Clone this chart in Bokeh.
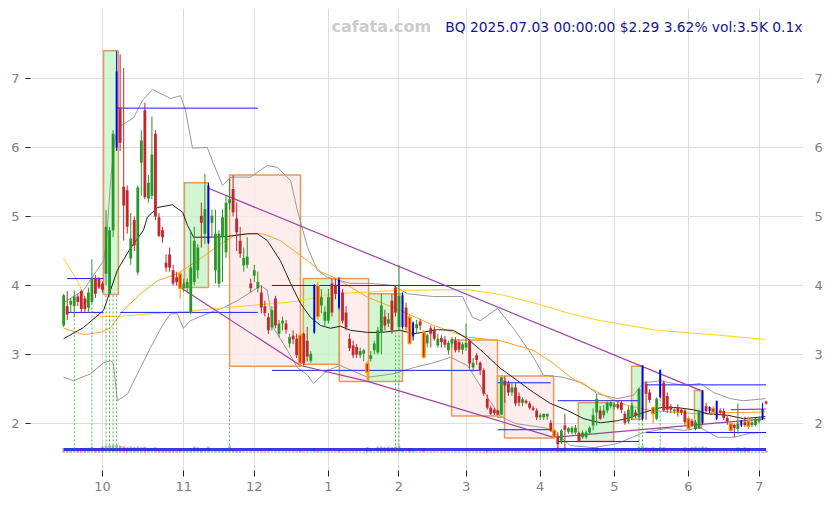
from bokeh.plotting import figure
from bokeh.models import Range1d, FixedTicker, LinearAxis, Label, ColumnDataSource
from bokeh.embed import file_html
from bokeh.resources import INLINE

# ---------------- data (x = trading-day index, 0 = 2024-10-01) ----------------
first_idx = -11
opens = [3.42,3.70,3.72,3.70,3.84,3.92,3.81,3.68,3.76,4.10,4.10,
         4.03,4.17,3.88,4.80,6.00,6.58,5.43,5.38,4.39,4.95,
         4.19,5.78,6.54,5.26,5.30,6.20,4.99,4.80,4.33,4.45,
         4.22,4.12,4.17,3.96,3.97,3.60,4.05,4.22,5.01,4.75,
         4.62,4.91,4.22,4.03,4.70,4.48,5.19,5.40,4.97,4.65,
         4.29,4.30,4.03,4.14,3.96,3.90,3.70,3.54,3.39,3.81,
         3.30,3.45,3.45,3.16,3.27,3.23,3.28,3.30,3.20,2.91,
         3.32,4.00,3.71,3.49,3.49,4.03,4.01,3.68,3.90,3.61,
         3.23,3.13,3.11,2.99,3.01,2.87,2.94,3.06,3.03,3.32,
         3.55,3.45,3.78,3.97,3.40,3.40,3.68,3.54,3.26,3.38,
         3.48,3.32,3.16,3.38,3.36,3.13,3.24,3.22,3.06,3.16,
         3.20,3.18,3.07,3.10,3.20,2.81,2.99,2.88,2.77,2.36,
         2.23,2.20,2.19,2.13,2.62,2.58,2.45,2.52,2.40,2.30,
         2.33,2.29,2.23,2.19,2.09,2.09,2.10,2.01,1.90,1.82,
         1.75,1.97,1.88,1.87,1.87,1.86,1.80,1.80,1.87,1.97,
         2.16,2.19,2.12,2.19,2.25,2.24,2.28,2.30,2.14,2.03,
         2.09,2.16,2.09,2.07,2.58,2.45,2.23,2.07,2.38,2.59,
         2.40,2.25,2.18,2.24,2.20,2.19,2.07,2.04,1.92,1.94,
         2.01,2.25,2.18,2.22,2.07,2.19,2.18,2.08,2.00,1.98,
         1.92,1.97,2.02,2.03,1.98,1.98,2.03,2.07,2.32]
highs = [3.88,3.92,3.82,3.93,3.88,3.94,3.85,3.97,4.38,4.15,4.12,
         4.06,5.09,4.85,6.25,7.40,7.35,7.15,5.45,5.05,5.00,
         5.45,6.25,6.65,5.60,6.45,6.25,5.05,4.85,4.45,4.55,
         4.30,4.20,4.20,4.10,4.10,4.80,4.85,4.60,5.20,5.62,
         5.49,5.10,5.10,4.80,5.10,5.30,5.55,5.60,5.20,4.85,
         4.55,4.70,4.10,4.30,4.20,4.00,3.78,3.60,3.70,3.85,
         3.50,3.55,3.50,3.30,3.35,3.30,3.32,3.32,3.40,3.05,
         4.02,4.05,3.95,3.70,3.95,4.10,4.10,4.12,3.95,3.70,
         3.30,3.20,3.15,3.10,3.08,2.90,3.05,3.20,3.40,3.88,
         3.65,3.60,3.88,4.00,4.30,3.90,3.75,3.58,3.48,3.50,
         3.52,3.35,3.30,3.42,3.40,3.30,3.28,3.27,3.20,3.25,
         3.25,3.22,3.18,3.45,3.22,2.95,3.02,2.90,2.80,2.42,
         2.26,2.22,2.20,2.68,2.68,2.62,2.58,2.58,2.45,2.38,
         2.35,2.32,2.26,2.22,2.15,2.14,2.14,2.05,1.92,1.88,
         1.92,2.14,1.95,1.96,1.98,1.88,1.90,1.90,1.96,2.22,
         2.43,2.25,2.27,2.32,2.33,2.30,2.33,2.33,2.18,2.25,
         2.30,2.20,2.52,2.84,2.62,2.50,2.25,2.38,2.78,2.62,
         2.45,2.28,2.22,2.28,2.22,2.22,2.10,2.07,2.05,2.20,
         2.48,2.30,2.25,2.25,2.33,2.22,2.22,2.11,2.02,2.00,
         2.29,2.05,2.10,2.10,2.05,2.08,2.10,2.30,2.33]
lows = [3.40,3.50,3.60,3.55,3.70,3.60,3.62,3.60,3.73,3.82,3.95,
        3.90,4.00,3.87,4.70,5.95,5.95,4.65,4.75,4.30,4.50,
        4.15,5.30,5.25,5.20,5.25,4.95,4.70,4.62,4.20,4.20,
        4.00,4.00,3.81,3.90,3.90,3.58,4.00,4.10,4.55,4.60,
        4.60,4.70,4.03,3.97,4.05,4.40,5.10,5.00,4.50,4.40,
        4.20,4.25,3.90,4.05,3.90,3.60,3.55,3.30,3.35,3.38,
        3.25,3.35,3.30,3.10,3.15,2.95,2.83,2.84,2.90,2.88,
        3.30,3.50,3.60,3.40,3.45,3.55,3.80,3.65,3.45,3.35,
        3.05,2.95,2.95,2.95,2.90,2.62,2.90,3.00,3.00,3.00,
        3.35,3.40,3.30,3.55,3.35,3.38,3.35,3.14,3.20,3.30,
        3.35,2.94,3.10,3.10,3.20,3.10,3.10,3.10,3.00,3.10,
        3.03,3.03,3.00,3.05,2.80,2.75,2.85,2.70,2.40,2.20,
        2.12,2.12,2.12,2.12,2.30,2.40,2.40,2.25,2.25,2.25,
        2.28,2.20,2.18,2.05,2.05,2.05,2.05,1.88,1.78,1.62,
        1.70,1.65,1.85,1.84,1.84,1.73,1.78,1.78,1.85,1.90,
        1.97,2.05,2.08,2.15,2.22,2.20,2.20,2.15,1.98,2.00,
        2.05,2.08,2.05,2.05,2.05,2.30,2.00,2.05,2.36,2.17,
        2.15,2.15,2.14,2.10,2.12,1.98,1.90,1.95,1.90,1.92,
        1.99,2.15,2.15,2.12,2.05,2.12,2.05,1.98,1.88,1.80,
        1.85,1.95,1.95,1.92,1.95,1.96,2.00,2.05,2.27]
closes = [3.86,3.58,3.78,3.84,3.76,3.66,3.66,3.90,4.10,3.88,3.97,
          3.94,4.85,4.80,6.20,7.10,6.07,5.16,4.85,4.68,4.58,
          5.42,6.10,5.28,5.49,5.90,5.00,4.72,4.70,4.26,4.26,
          4.03,4.05,3.96,4.03,4.05,4.26,4.65,4.55,4.91,5.11,
          5.45,5.01,4.75,4.75,4.99,5.20,5.25,5.06,4.77,4.46,
          4.40,4.42,3.96,4.22,4.05,3.68,3.60,3.35,3.64,3.42,
          3.45,3.49,3.36,3.25,3.22,2.99,2.87,2.87,2.97,3.01,
          4.00,3.55,3.83,3.62,3.83,3.61,3.88,4.08,3.49,3.39,
          3.09,2.99,3.00,3.05,3.06,2.74,2.99,3.16,3.35,3.71,
          3.42,3.51,3.35,3.61,3.85,3.86,3.40,3.16,3.46,3.44,
          3.42,2.96,3.28,3.30,3.23,3.23,3.18,3.14,3.17,3.22,
          3.06,3.07,3.15,3.17,2.87,2.88,2.92,2.77,2.43,2.23,
          2.14,2.15,2.13,2.67,2.55,2.45,2.52,2.29,2.30,2.35,
          2.30,2.23,2.20,2.09,2.12,2.14,2.14,1.90,1.80,1.70,
          1.90,1.91,1.93,1.94,1.94,1.75,1.87,1.87,1.94,2.12,
          2.36,2.07,2.19,2.30,2.30,2.28,2.23,2.20,2.01,2.20,
          2.26,2.12,2.50,2.84,2.43,2.34,2.14,2.36,2.78,2.19,
          2.20,2.20,2.20,2.17,2.16,2.02,1.93,1.98,2.02,2.19,
          2.48,2.18,2.24,2.16,2.33,2.16,2.08,2.03,1.90,1.94,
          2.00,2.04,1.98,1.96,2.02,2.06,2.07,2.21,2.29]
volumes = [30,25,28,32,20,30,28,32,40,30,28,
           40,45,48,50,50,45,40,35,40,35,
           40,35,38,30,32,35,25,15,12,12,
           12,10,25,12,14,30,40,35,20,25,
           40,15,14,12,12,12,45,25,12,10,
           8,8,8,8,8,8,8,8,8,8,
           8,8,8,8,8,8,10,8,8,8,
           30,15,8,8,8,8,8,15,8,8,
           8,8,8,8,8,35,30,8,40,40,
           35,40,35,40,45,20,8,30,20,8,
           8,30,8,8,8,8,8,8,8,8,
           8,8,8,8,8,8,8,8,8,30,
           8,8,8,8,8,8,8,8,8,8,
           8,8,8,8,8,8,8,8,8,35,
           30,35,8,8,8,8,8,8,8,35,
           35,8,8,8,8,8,8,8,8,8,
           8,8,40,45,35,30,35,30,40,35,
           8,8,8,8,8,35,30,35,40,35,
           40,35,30,8,8,8,8,8,8,8,
           35,30,35,30,8,8,8,8,10]
blue_idx = [4, 30, 60, 67, 85, 88, 153, 158, 170, 172, 174, 181, 187]
orange_idx = [22, 56, 61, 75, 87, 91, 128, 156, 166, 173, 178, 183]

month_idx = [0, 23, 43, 64, 84, 103, 124, 145, 166, 186]
month_labels = ["10", "11", "12", "1", "2", "3", "4", "5", "6", "7"]
price_ticks = [2, 3, 4, 5, 6, 7]

ma_black_x = [-11,-5.4,0.3,4.2,7.9,11.6,12.7,15.6,19.8,22.7,24.1,25.8,30,35.1,41.1,43.9,46.7,50.4,53.3,56.1,58.9,61.8,64.6,67.4,70.3,75.1,78.8,84.4,88.1,94.9,99.4,103.4,107.9,112.7,117.6,122.1,126.9,131.7,136.3,141.1,145.9,149.6,153.3,158.1,162.9,167.4,171.4,177.1,181.6,187.8]
ma_black_y = [3.23,3.39,3.64,4.22,4.54,4.80,4.99,5.13,5.17,5.06,4.87,4.70,4.70,4.71,4.75,4.75,4.65,4.36,4.03,3.74,3.54,3.42,3.38,3.41,3.35,3.32,3.32,3.35,3.30,3.36,3.35,3.23,3.03,2.80,2.62,2.45,2.29,2.19,2.07,2.01,2.04,2.09,2.16,2.23,2.23,2.20,2.14,2.12,2.07,2.10]
ma_orange_x = [-11,-5.4,-0.6,2.3,5.9,10.8,15.6,21.2,26.9,32.6,37.1,41.9,45.3,50.4,54.1,58.1,61.8,66.6,75.1,84.4,93.8,103.4,112.7,122.1,127.8,132.6,138.2,143.9,148.7,155.2,162.9,169.4,175.9,183.6,187.8]
ma_orange_y = [3.38,3.29,3.32,3.39,3.64,3.88,4.07,4.17,4.36,4.57,4.72,4.75,4.75,4.65,4.51,4.36,4.20,4.09,3.83,3.64,3.42,3.25,3.20,3.06,2.87,2.67,2.51,2.36,2.26,2.19,2.16,2.14,2.16,2.16,2.17]
ma_yellow_x = [-11,-7.1,-3.4,-0.6,4.2,13.6,22.9,32.6,41.9,51.3,56.1,65.4,84.4,103.4,112.7,122.1,132.6,141.1,157.2,172.2,187.8]
ma_yellow_y = [4.39,4.07,3.64,3.55,3.55,3.59,3.62,3.67,3.71,3.75,3.78,3.88,3.93,3.94,3.87,3.75,3.59,3.49,3.35,3.29,3.22]
bb_upper_x = [-11,-5.4,0.3,1.1,2.3,3.4,4.5,8.8,11.3,14.2,19.3,22.1,23.5,25.5,29.7,31.4,34.0,36.3,41.9,46.7,49.6,53.3,55.2,58.1,60.9,63.7,70.3,75.9,82.4,86.4,93.8,102.0,104.8,107.1,111.9,116.4,122.1,124.9,130.6,136.3,140.2,145.9,150.4,153.3,158.1,164.6,169.4,173.1,177.9,181.6,187.8]
bb_upper_y = [3.75,3.93,4.36,4.65,5.52,6.10,6.29,6.43,6.68,6.84,6.71,6.75,6.54,5.99,6.00,5.77,5.45,5.57,5.57,5.74,5.71,5.52,5.09,4.55,4.22,4.12,4.03,4.03,4.00,3.88,3.84,3.84,3.54,3.49,3.67,3.38,2.96,2.70,2.67,2.58,2.43,2.36,2.41,2.59,2.62,2.55,2.58,2.45,2.36,2.33,2.36]
bb_lower_x = [-11,-8.2,-3.4,0.3,2.3,3.1,4.2,7.1,9.9,13.6,17.3,19.3,21.2,22.9,24.9,30.6,34.3,38.2,41.9,44.8,46.7,48.4,52.4,55.2,58.1,59.8,63.7,67.4,75.1,82.4,88.1,93.8,98.6,103.4,109.1,112.7,117.0,126.1,129.7,132.6,139.1,145.9,150.1,153.3,160.1,164.6,169.4,174.2,178.8,183.6,187.8]
bb_lower_y = [2.67,2.62,2.72,2.88,2.91,2.87,2.33,2.43,2.72,3.10,3.45,3.59,3.59,3.38,3.49,3.61,3.68,3.78,3.90,4.00,3.93,3.39,3.06,2.81,2.70,2.58,2.77,2.84,2.67,2.72,2.81,2.88,2.96,2.84,2.38,2.10,2.00,1.93,1.80,1.68,1.65,1.71,1.80,1.87,1.93,1.90,1.94,1.80,1.80,1.86,1.87]

box_left = [0.3, 23.2, 36.0, 56.9, 67.1, 75.4, 98.9, 111.9, 113.9, 134.8, 149.9, 167.7]
box_right = [4.5, 30.0, 56.1, 67.1, 75.4, 85.0, 111.9, 113.9, 127.8, 144.8, 153.0, 169.7]
box_top = [7.40, 5.49, 5.60, 4.10, 4.10, 3.88, 3.21, 2.69, 2.69, 2.30, 2.83, 2.48]
box_bottom = [3.87, 3.97, 2.83, 2.86, 2.61, 2.61, 2.11, 2.09, 1.79, 1.74, 2.06, 1.93]
box_up = [True, True, False, True, False, True, False, True, False, True, True, True]

level_x0 = [-10, -10, 5, 4, 48, 48, 112, 112, 129, 129, 154, 154]
level_x1 = [0.3, 0.3, 44, 44, 107, 107, 127, 127, 152, 152, 188, 188]
level_y = [4.10, 3.61, 3.61, 6.57, 4.00, 2.77, 2.59, 1.91, 2.33, 1.74, 2.56, 1.87]

trend_upper_x = [30.0, 169.4]
trend_upper_y = [5.41, 2.48]
trend_lower_x = [22.1, 56.1, 75.1, 127.8, 187.8]
trend_lower_y = [3.97, 2.84, 2.61, 1.80, 2.07]
trend_short_x = [178, 188]
trend_short_y = [2.20, 2.21]

mark_idx = [-8, -3, 1, 2, 3, 4, 36, 83, 84, 152, 153, 158]
mark_top = [3.57, 3.73, 3.87, 3.87, 3.87, 3.87, 2.83, 3.32, 3.32, 2.07, 2.07, 2.38]

title_text = "BQ 2025.07.03 00:00:00 $2.29 3.62% vol:3.5K 0.1x"
watermark = "cafata.com"

# ---------------- figure ----------------
n = len(closes)
xs = [first_idx + k for k in range(n)]

p = figure(width=830, height=503, output_backend="svg", toolbar_location=None,
           x_range=Range1d(-20.4, 198.6), y_range=Range1d(1.319, 8.014),
           min_border_left=30, min_border_right=27, min_border_top=8, min_border_bottom=33)
p.outline_line_color = None

FONT = "DejaVu Sans"
p.xaxis.ticker = FixedTicker(ticks=month_idx)
p.xaxis.major_label_overrides = {m: lab for m, lab in zip(month_idx, month_labels)}
p.yaxis.ticker = FixedTicker(ticks=price_ticks)
right = LinearAxis(ticker=FixedTicker(ticks=price_ticks))
p.add_layout(right, "right")
for ax in [p.xaxis[0], p.yaxis[0], right]:
    ax.axis_line_color = None
    ax.minor_tick_line_color = None
    ax.major_tick_in = 0
    ax.major_label_text_color = "#808080"
    ax.major_label_text_font = FONT
    ax.major_label_text_font_size = "13px"
    ax.major_tick_line_color = "#222222"
p.xaxis.major_tick_out = 6
p.xaxis.major_label_standoff = 5
p.yaxis[0].major_tick_out = 5
p.yaxis[0].major_label_standoff = 6
right.major_tick_out = 0
right.major_tick_line_color = None
right.major_label_standoff = 11
p.xgrid.grid_line_color = "#dddddd"
p.ygrid.grid_line_color = "#dddddd"

# boxes
bx = ColumnDataSource(dict(l=box_left, r=box_right, t=box_top, b=box_bottom,
                           fc=["#c9f5c9" if u else "#fdeaea" for u in box_up]))
p.quad(left="l", right="r", top="t", bottom="b", source=bx, fill_color="fc",
       fill_alpha=0.85, line_color="#e39a5c", line_width=1.5)

# bands and averages
p.line(bb_upper_x, bb_upper_y, line_color="#999999", line_width=1)
p.line(bb_lower_x, bb_lower_y, line_color="#999999", line_width=1)
p.line(ma_yellow_x, ma_yellow_y, line_color="#ffd11a", line_width=1)
p.line(ma_orange_x, ma_orange_y, line_color="#ffa31a", line_width=1)
p.line(ma_black_x, ma_black_y, line_color="#222222", line_width=1)

# levels and trend lines
p.segment(x0=level_x0, y0=level_y, x1=level_x1, y1=level_y, line_color="#1a1aff", line_width=1)
p.line(trend_upper_x, trend_upper_y, line_color="#a040a8", line_width=1.2)
p.line(trend_lower_x, trend_lower_y, line_color="#a040a8", line_width=1.2)
p.line(trend_short_x, trend_short_y, line_color="#a040a8", line_width=1.2)

# volume
vol_base = 1.578
vol_scale = 0.0022
vcol = ["#2ca02c" if c >= o else "#d62728" for o, c in zip(opens, closes)]
p.vbar(x=xs, width=0.75, bottom=vol_base, top=[vol_base + v * vol_scale for v in volumes],
       fill_color=vcol, fill_alpha=0.5, line_color=None)
p.line([xs[0], xs[-1]], [1.622, 1.622], line_color="#2323e6", line_width=3, line_alpha=0.9)

# volume spike markers
p.segment(x0=mark_idx, y0=[1.625] * len(mark_idx), x1=mark_idx, y1=mark_top,
          line_color="#2ca02c", line_dash="2 2", line_width=1, line_alpha=0.8)

# candles
norm = [k for k in range(n) if xs[k] not in blue_idx and xs[k] not in orange_idx]
def body(o, c, minh=0.025):
    t, b = max(o, c), min(o, c)
    if t - b < minh:
        m = (t + b) / 2
        t, b = m + minh / 2, m - minh / 2
    return t, b

GREEN, RED = "#2a962a", "#c0282d"
src = dict(x=[], h=[], l=[], t=[], b=[], col=[])
for k in norm:
    t, b = body(opens[k], closes[k])
    src["x"].append(xs[k]); src["h"].append(highs[k]); src["l"].append(lows[k])
    src["t"].append(t); src["b"].append(b)
    src["col"].append(GREEN if closes[k] >= opens[k] else RED)
cs = ColumnDataSource(src)
p.segment(x0="x", y0="l", x1="x", y1="h", source=cs, line_color="col", line_width=1)
p.vbar(x="x", width=0.8, top="t", bottom="b", source=cs, fill_color="col", line_color=None)

osrc = dict(x=[], h=[], l=[], t=[], b=[], col=[])
for k in range(n):
    if xs[k] in orange_idx:
        t, b = body(opens[k], closes[k])
        osrc["x"].append(xs[k]); osrc["h"].append(highs[k]); osrc["l"].append(lows[k])
        osrc["t"].append(t); osrc["b"].append(b)
        osrc["col"].append(GREEN if closes[k] >= opens[k] else RED)
osr = ColumnDataSource(osrc)
p.segment(x0="x", y0="l", x1="x", y1="h", source=osr, line_color="#ff9900", line_width=1.2)
p.vbar(x="x", width=0.8, top="t", bottom="b", source=osr, fill_color="col",
       line_color="#ff9900", line_width=1.3)

bsrc = dict(x=[], h=[], l=[], t=[], b=[])
for k in range(n):
    if xs[k] in blue_idx:
        t, b = body(opens[k], closes[k])
        bsrc["x"].append(xs[k]); bsrc["h"].append(highs[k]); bsrc["l"].append(lows[k])
        bsrc["t"].append(t); bsrc["b"].append(b)
bsr = ColumnDataSource(bsrc)
p.segment(x0="x", y0="l", x1="x", y1="h", source=bsr, line_color="#0000ee", line_width=1)
p.vbar(x="x", width=0.55, top="t", bottom="b", source=bsr, fill_color="#0000ee", line_color=None)

# texts
p.add_layout(Label(x=79, y=7.75, text=watermark, text_align="center", text_baseline="middle",
                   text_font=FONT, text_font_size="16px", text_font_style="bold",
                   text_color="#cccccc"))
p.add_layout(Label(x=198.3, y=7.75, text=title_text, text_align="right", text_baseline="middle",
                   text_font=FONT, text_font_size="13.8px", text_color="#15159a"))

open("out.html", "w").write(file_html(p, INLINE))
